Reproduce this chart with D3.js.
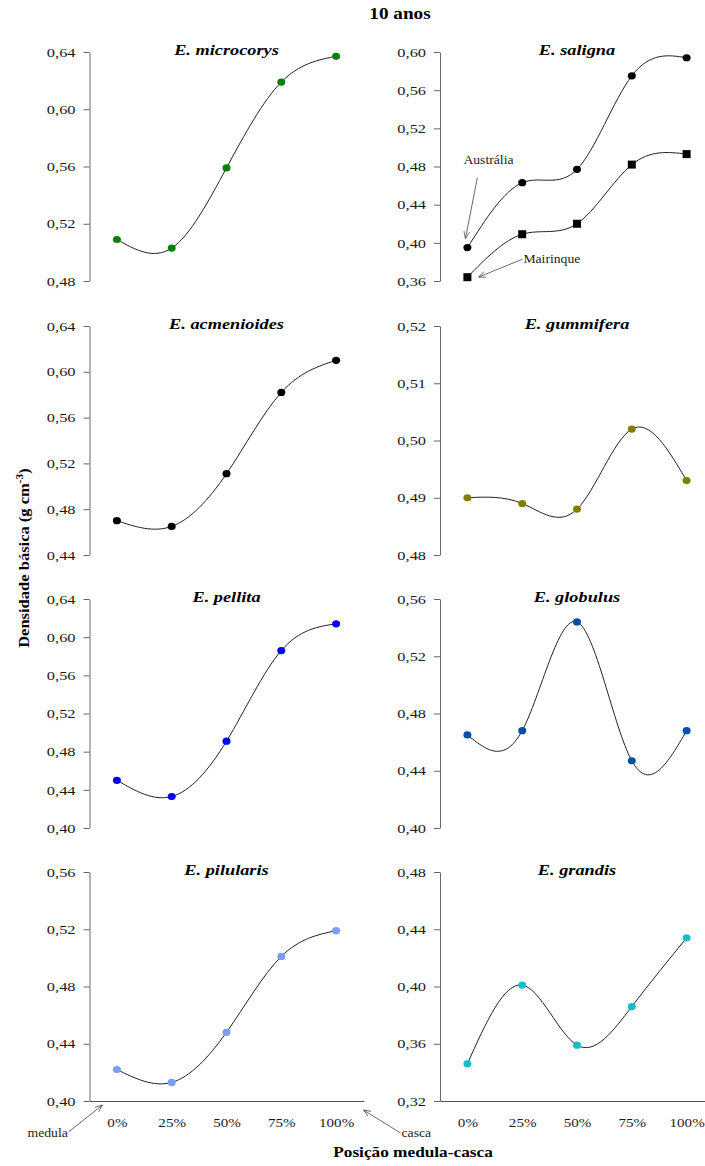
<!DOCTYPE html>
<html>
<head>
<meta charset="utf-8">
<script src="https://cdn.jsdelivr.net/npm/d3@7"></script>
<style>
  html, body { margin: 0; padding: 0; background: #fff; }
  svg { display: block; font-family: "Liberation Serif", "Times New Roman", serif; }
</style>
</head>
<body>
<svg id="chart" width="705" height="1166"></svg>
<script>
// Radial position from pith (medula) to bark (casca)
const positions = ["0%", "25%", "50%", "75%", "100%"];

// Basic density (g cm-3) per species, 10-year-old trees
const microcorys  = [0.509, 0.503, 0.559, 0.619, 0.637];
const salignaAus  = [0.395, 0.463, 0.477, 0.575, 0.594];
const salignaMai  = [0.364, 0.409, 0.420, 0.482, 0.493];
const acmenioides = [0.470, 0.465, 0.511, 0.582, 0.610];
const gummifera   = [0.490, 0.489, 0.488, 0.502, 0.493];
const pellita     = [0.450, 0.433, 0.491, 0.586, 0.614];
const globulus    = [0.465, 0.468, 0.544, 0.447, 0.468];
const pilularis   = [0.422, 0.413, 0.448, 0.501, 0.519];
const grandis     = [0.346, 0.401, 0.359, 0.386, 0.434];

// Y-axis tick values per panel
const ticksMicrocorys  = [0.48, 0.52, 0.56, 0.60, 0.64];
const ticksSaligna     = [0.36, 0.40, 0.44, 0.48, 0.52, 0.56, 0.60];
const ticksAcmenioides = [0.44, 0.48, 0.52, 0.56, 0.60, 0.64];
const ticksGummifera   = [0.48, 0.49, 0.50, 0.51, 0.52];
const ticksPellita     = [0.40, 0.44, 0.48, 0.52, 0.56, 0.60, 0.64];
const ticksGlobulus    = [0.40, 0.44, 0.48, 0.52, 0.56];
const ticksPilularis   = [0.40, 0.44, 0.48, 0.52, 0.56];
const ticksGrandis     = [0.32, 0.36, 0.40, 0.44, 0.48];

const panels = [
  { title: "E. microcorys",  col: 0, row: 0, ticks: ticksMicrocorys,  series: [{ values: microcorys,  color: "#008000", shape: "circle" }] },
  { title: "E. saligna",     col: 1, row: 0, ticks: ticksSaligna,     series: [
      { values: salignaAus, color: "#000000", shape: "circle", name: "Austrália" },
      { values: salignaMai, color: "#000000", shape: "square", name: "Mairinque" }] },
  { title: "E. acmenioides", col: 0, row: 1, ticks: ticksAcmenioides, series: [{ values: acmenioides, color: "#000000", shape: "circle" }] },
  { title: "E. gummifera",   col: 1, row: 1, ticks: ticksGummifera,   series: [{ values: gummifera,   color: "#808000", shape: "circle" }] },
  { title: "E. pellita",     col: 0, row: 2, ticks: ticksPellita,     series: [{ values: pellita,     color: "#0000f0", shape: "circle" }] },
  { title: "E. globulus",    col: 1, row: 2, ticks: ticksGlobulus,    series: [{ values: globulus,    color: "#0050a8", shape: "circle" }] },
  { title: "E. pilularis",   col: 0, row: 3, ticks: ticksPilularis,   series: [{ values: pilularis,   color: "#7a9ef2", shape: "circle" }], xAxis: true },
  { title: "E. grandis",     col: 1, row: 3, ticks: ticksGrandis,     series: [{ values: grandis,     color: "#17bcc6", shape: "circle" }], xAxis: true }
];

const svg = d3.select("#chart");
const colX = [89.5, 440];
const rowTop = [52, 326, 599, 872];
const plotH = 229;
const plotW = 274;
const fmt = v => d3.format(".2f")(v).replace(".", ",");

// The typeface in this figure is set slightly wide; widen glyphs by factor k
function widen(sel, k) {
  sel.each(function () {
    const w = this.getComputedTextLength();
    d3.select(this).attr("textLength", w * k).attr("lengthAdjust", "spacingAndGlyphs");
  });
}

// Open arrowhead used by the annotation pointers
svg.append("defs").append("marker")
  .attr("id", "arrow")
  .attr("viewBox", "0 0 10 10")
  .attr("refX", 10).attr("refY", 5)
  .attr("markerWidth", 9).attr("markerHeight", 9)
  .attr("orient", "auto")
  .append("path")
  .attr("d", "M0,1 L10,5 L0,9")
  .attr("fill", "none")
  .attr("stroke", "#444")
  .attr("stroke-width", 1);

const scalesByTitle = {};

panels.forEach(p => {
  const x0 = colX[p.col];
  const y0 = rowTop[p.row];
  const x = d3.scalePoint().domain(positions).range([x0, x0 + plotW]).padding(0.5);
  const y = d3.scaleLinear().domain(d3.extent(p.ticks)).range([y0 + plotH, y0]);
  scalesByTitle[p.title] = { x, y };

  const g = svg.append("g");

  // Y axis
  const ya = g.append("g")
    .attr("transform", `translate(${x0},0)`)
    .call(d3.axisLeft(y).tickValues(p.ticks).tickFormat(fmt).tickSize(6).tickPadding(8).tickSizeOuter(0));
  ya.select(".domain").attr("stroke", "#666");
  ya.selectAll(".tick line").attr("stroke", "#666");
  ya.selectAll(".tick text")
    .attr("fill", "#1a1a1a")
    .style("font-family", "'Liberation Serif', serif")
    .style("font-size", "13px")
    .call(widen, 1.26);

  // X axis on the bottom row only
  if (p.xAxis) {
    const xa = g.append("g")
      .attr("transform", `translate(0,${y0 + plotH})`)
      .call(d3.axisBottom(x).tickSize(0).tickPadding(17).tickSizeOuter(0));
    xa.select(".domain").attr("stroke", "#555");
    xa.selectAll(".tick text")
      .attr("fill", "#1a1a1a")
      .style("font-family", "'Liberation Serif', serif")
      .style("font-size", "13px")
      .call(widen, 1.16);
  }

  // Panel title
  g.append("text")
    .attr("x", x0 + plotW / 2)
    .attr("y", y0 + 3)
    .attr("text-anchor", "middle")
    .style("font-weight", "bold")
    .style("font-style", "italic")
    .style("font-size", "15.5px")
    .text(p.title)
    .call(widen, 1.18);

  const line = d3.line()
    .x((d, i) => x(positions[i]))
    .y(d => y(d))
    .curve(d3.curveNatural);

  p.series.forEach(s => {
    g.append("path")
      .datum(s.values)
      .attr("d", line)
      .attr("fill", "none")
      .attr("stroke", "#222")
      .attr("stroke-width", 1);

    if (s.shape === "square") {
      g.selectAll(null).data(s.values).enter().append("rect")
        .attr("x", (d, i) => x(positions[i]) - 4)
        .attr("y", d => y(d) - 4)
        .attr("width", 8).attr("height", 8)
        .attr("fill", s.color);
    } else {
      g.selectAll(null).data(s.values).enter().append("ellipse")
        .attr("cx", (d, i) => x(positions[i]))
        .attr("cy", d => y(d))
        .attr("rx", 4).attr("ry", 3.6)
        .attr("fill", s.color);
    }
  });
});

// Pointers naming the two E. saligna provenances
const sal = scalesByTitle["E. saligna"];
const sx = sal.x(positions[0]);
const annot = svg.append("g").style("font-size", "12px").attr("fill", "#222");
annot.append("text").attr("x", sx - 4).attr("y", sal.y(salignaAus[0]) - 84).text("Austrália");
annot.append("line")
  .attr("x1", sx + 10).attr("y1", sal.y(salignaAus[0]) - 70)
  .attr("x2", sx - 2).attr("y2", sal.y(salignaAus[0]) - 9)
  .attr("stroke", "#444").attr("stroke-width", 0.8).attr("marker-end", "url(#arrow)");
annot.append("text").attr("x", sx + 56).attr("y", sal.y(salignaMai[0]) - 14).text("Mairinque");
annot.append("line")
  .attr("x1", sx + 55).attr("y1", sal.y(salignaMai[0]) - 18)
  .attr("x2", sx + 11).attr("y2", sal.y(salignaMai[0]))
  .attr("stroke", "#444").attr("stroke-width", 0.8).attr("marker-end", "url(#arrow)");

// Pith and bark pointers at the ends of the bottom-left axis
const pil = scalesByTitle["E. pilularis"];
const axY = pil.y(ticksPilularis[0]);
const axL = pil.x.range()[0];
const axR = pil.x.range()[1];
annot.append("text").attr("x", axL - 62).attr("y", axY + 36).text("medula");
annot.append("line")
  .attr("x1", axL - 21).attr("y1", axY + 31)
  .attr("x2", axL + 13).attr("y2", axY + 4)
  .attr("stroke", "#444").attr("stroke-width", 0.8).attr("marker-end", "url(#arrow)");
annot.append("text").attr("x", axR + 38).attr("y", axY + 36).text("casca");
annot.append("line")
  .attr("x1", axR + 37).attr("y1", axY + 32)
  .attr("x2", axR).attr("y2", axY + 9)
  .attr("stroke", "#444").attr("stroke-width", 0.8).attr("marker-end", "url(#arrow)");
annot.selectAll("text").call(widen, 1.14);

// Figure title
svg.append("text")
  .attr("x", 400).attr("y", 19)
  .attr("text-anchor", "middle")
  .style("font-weight", "bold")
  .style("font-size", "16px")
  .text("10 anos")
  .call(widen, 1.2);

// Shared axis titles
svg.append("text")
  .attr("x", 413).attr("y", 1157)
  .attr("text-anchor", "middle")
  .style("font-weight", "bold")
  .style("font-size", "15px")
  .text("Posição medula-casca")
  .call(widen, 1.15);

const yt = svg.append("text")
  .attr("transform", "translate(29,558) rotate(-90) scale(1.14,1)")
  .attr("text-anchor", "middle")
  .style("font-weight", "bold")
  .style("font-size", "14.5px");
yt.append("tspan").text("Densidade básica (g cm");
yt.append("tspan").attr("dy", -6).style("font-size", "10px").text("-3");
yt.append("tspan").attr("dy", 6).text(")");
</script>
</body>
</html>
